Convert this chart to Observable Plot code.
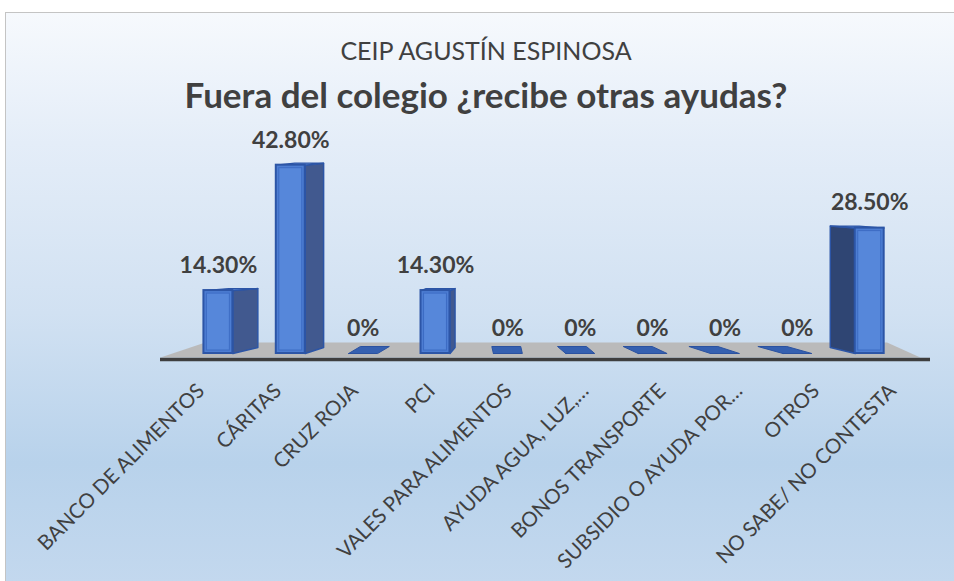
<!DOCTYPE html>
<html>
<head>
<meta charset="utf-8">
<script src="https://cdn.jsdelivr.net/npm/d3@7"></script>
<script src="https://cdn.jsdelivr.net/npm/@observablehq/plot@0.6"></script>
<style>
  html, body { margin: 0; padding: 0; background: #ffffff; overflow: hidden; }
  #page { position: relative; width: 954px; height: 581px; overflow: hidden; }
  #frame {
    position: absolute; left: 5px; top: 12px; width: 970px; height: 600px;
    border: 1.5px solid #c4c4c4;
    background: linear-gradient(to bottom, #f6f9fd 0px, #e4edf8 130px, #d1e1f2 300px, #b8d2eb 450px, #c3d8ee 570px);
  }
  .t1 { position: absolute; left: 0; width: 972px; top: 35px; line-height: 30px; text-align: center;
        font-family: Lato, "Open Sans", sans-serif; font-size: 25px; color: #404040; }
  .t2 { position: absolute; left: 0; width: 972px; top: 74px; line-height: 40px; text-align: center;
        font-family: Lato, "Open Sans", sans-serif; font-size: 35px; font-weight: bold; color: #404040; }
  #chart { position: absolute; left: 0; top: 115px; }
</style>
</head>
<body>
<div id="page">
  <div id="frame"></div>
  <div class="t1">CEIP AGUSTÍN ESPINOSA</div>
  <div class="t2">Fuera del colegio ¿recibe otras ayudas?</div>
  <div id="chart"></div>
</div>
<script>
const categories = ["BANCO DE ALIMENTOS", "CÁRITAS", "CRUZ ROJA", "PCI", "VALES PARA ALIMENTOS",
  "AYUDA AGUA, LUZ,…", "BONOS TRANSPORTE", "SUBSIDIO O AYUDA POR…", "OTROS", "NO SABE/ NO CONTESTA"];
const values = [14.3, 42.8, 0, 14.3, 0, 0, 0, 0, 0, 28.5];
const valueLabels = ["14.30%", "42.80%", "0%", "14.30%", "0%", "0%", "0%", "0%", "0%", "28.50%"];

const W = 954, H = 466, mT = 18, mB = 228, mL = 160, mR = 24;
const xDomain = [-0.8, 9.84];
const yDomain = [0, 50];
const px = (yDomain[1] - yDomain[0]) / (H - mT - mB);   // y units per pixel
const half = 0.2;             // half width of the front face (index units)
const vanish = 3.76;          // perspective vanishing index
const depthOf = i => Math.max(-0.345, Math.min(0.345, (vanish - i) * 0.092));

const data = categories.map((c, i) => ({i, c, v: values[i], label: valueLabels[i], d: depthOf(i),
  lx: i * 1.062 - 0.24}));
const pos = data.filter(d => d.v > 0);
const zero = data.filter(d => d.v === 0);

// polygons for the 3D faces, derived from the data
const poly = (id, pts) => pts.concat([pts[0]]).map(([x, y]) => ({id, x, y}));
const sides = [], tops = [], flats = [];
pos.forEach(d => {
  const e = d.d > 0 ? d.i + half : d.i - half;
  sides.push(...poly(d.i, [[e, 0], [e + d.d, 6 * px], [e + d.d, d.v + 2 * px], [e, d.v]]));
  tops.push(...poly(d.i, [[d.i - half, d.v], [d.i + half, d.v], [d.i + half + d.d, d.v + 2 * px], [d.i - half + d.d, d.v + 2 * px]]));
});
zero.forEach(d => {
  flats.push(...poly(d.i, [[d.i - half, 0], [d.i + half, 0], [d.i + half + d.d, 7 * px], [d.i - half + d.d, 7 * px]]));
});
const floor = poly("floor", [[xDomain[0], -4 * px], [xDomain[0] + 0.62, 11 * px], [xDomain[1] - 0.6, 11 * px], [xDomain[1] - 0.14, -4 * px]]);

const leftSides = sides.filter(p => depthOf(p.id) > 0);
const rightSides = sides.filter(p => depthOf(p.id) < 0);

const font = "Lato, 'Open Sans', sans-serif";
const plot = Plot.plot({
  width: W, height: H,
  marginLeft: mL, marginRight: mR, marginTop: mT, marginBottom: mB,
  style: {background: "transparent", overflow: "visible"},
  x: {type: "linear", domain: xDomain, axis: null},
  y: {domain: yDomain, axis: null},
  marks: [
    // floor
    Plot.line(floor, {x: "x", y: "y", z: "id", fill: "#bababa", stroke: "none"}),
    Plot.ruleY([0], {x1: xDomain[0], x2: xDomain[1], stroke: "#3e3e3e", strokeWidth: 3.5, dy: 6}),
    // zero bars (flat faces)
    Plot.line(flats, {x: "x", y: "y", z: "id", fill: "#3560b0", stroke: "#2b52a0", strokeWidth: 1}),
    // side faces
    Plot.line(leftSides, {x: "x", y: "y", z: "id", fill: "#41598f", stroke: "#2c55a6", strokeWidth: 1.5}),
    Plot.line(rightSides, {x: "x", y: "y", z: "id", fill: "#2f4573", stroke: "#2c55a6", strokeWidth: 1.5}),
    // top faces
    Plot.line(tops, {x: "x", y: "y", z: "id", fill: "#5b89d8", stroke: "#2c55a6", strokeWidth: 1.2}),
    // front faces
    Plot.rect(pos, {x1: d => d.i - half, x2: d => d.i + half, y1: 0, y2: "v",
      fill: "#4d7dd2", stroke: "#2c55a6", strokeWidth: 2}),
    // bevel highlight
    Plot.rect(pos, {x1: d => d.i - half, x2: d => d.i + half, y1: 0, y2: "v",
      inset: 3, fill: "#5687da", stroke: "#3d6cc4", strokeWidth: 1}),
    // value labels
    Plot.text(data, {x: "i", y: "v", text: "label", dy: -25, fontSize: 23, fontWeight: "bold",
      fill: "#404040", fontFamily: font}),
    // category labels
    Plot.text(data, {x: "lx", y: 0, text: "c", rotate: -45, textAnchor: "end", dy: 34,
      fontSize: 20.5, fill: "#404040", fontFamily: font})
  ]
});
document.getElementById("chart").appendChild(plot);
</script>
</body>
</html>
